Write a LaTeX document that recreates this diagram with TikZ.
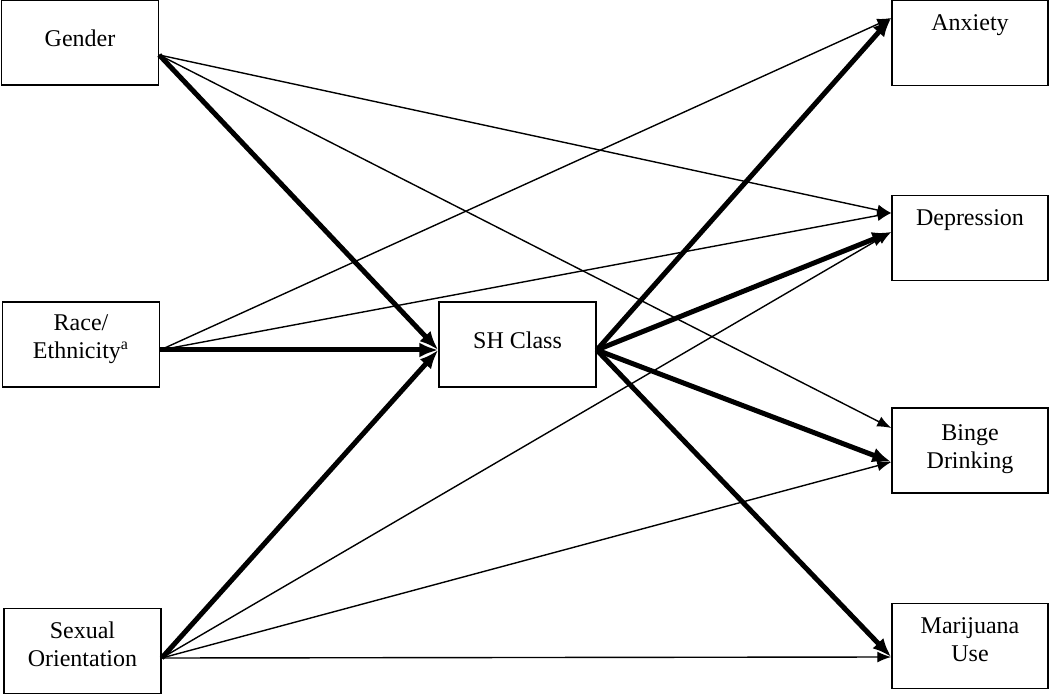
\documentclass[tikz,border=0pt]{standalone}
\usepackage{fontspec}
\setmainfont{Liberation Serif}
\usetikzlibrary{arrows.meta}
\begin{document}
\begin{tikzpicture}[x=0.5pt,y=-0.5pt,
  box/.style={draw, line width=0.75pt, minimum width=78.5pt, minimum height=42.5pt, inner sep=0pt},
  txt/.style={anchor=north, inner sep=0pt, align=center, font=\fontsize{12}{14}\selectfont},
  thinarr/.style={line width=0.7pt, -{Latex[length=7pt,width=5.5pt]}},
  thickarr/.style={line width=2.5pt, -{Latex[length=9.5pt,width=7.5pt]}}]
\useasboundingbox (0,0) rectangle (1050,695);
% boxes
\node[box] (gender) at (80,42.5) {};
\node[box] (race) at (81,344.5) {};
\node[box] (sexual) at (82.5,651) {};
\node[box] (sh) at (517.5,344.5) {};
\node[box, minimum width=78pt] (anx) at (970,43) {};
\node[box, minimum width=78pt] (dep) at (970,238) {};
\node[box, minimum width=78pt] (binge) at (970,450.5) {};
\node[box, minimum width=78pt] (mar) at (970,646) {};
% texts
\node[txt] (tgender) at ([yshift=-15pt]gender.north) {Gender};
\node[txt] (trace) at ([yshift=-6.5pt]race.north) {Race/\\Ethnicity\textsuperscript{a}};
\node[txt] (tsexual) at ([yshift=-7pt]sexual.north) {Sexual\\Orientation};
\node[txt] (tsh) at ([yshift=-15pt]sh.north) {SH Class};
\node[txt] (tanx) at ([yshift=-7pt]anx.north) {Anxiety};
\node[txt] (tdep) at ([yshift=-7pt]dep.north) {Depression};
\node[txt] (tbinge) at ([yshift=-8.5pt]binge.north) {Binge\\Drinking};
\node[txt] (tmar) at ([yshift=-7pt]mar.north) {Marijuana\\Use};
% thin paths
\draw[thinarr] ([yshift=-6.25pt]gender.east) -- ([yshift=12.5pt]dep.west);
\draw[thinarr] ([yshift=-6.25pt]gender.east) -- ([yshift=11.25pt]binge.west);
\draw[thinarr] ([yshift=-2.75pt]race.east) -- ([yshift=12.5pt]anx.west);
\draw[thinarr] ([yshift=-2.75pt]race.east) -- ([yshift=12.5pt]dep.west);
\draw[thinarr] ([yshift=-3.5pt]sexual.east) -- ([yshift=3pt]dep.west);
\draw[thinarr] ([yshift=-3.5pt]sexual.east) -- ([yshift=-5.75pt]binge.west);
\draw[thinarr] ([yshift=-3.5pt]sexual.east) -- ([yshift=-5.5pt]mar.west);
% thick paths
\draw[thickarr] ([yshift=-6.25pt]gender.east) -- ([yshift=-2.75pt]sh.west);
\draw[thickarr] ([yshift=-2.75pt]race.east) -- ([yshift=-2.75pt]sh.west);
\draw[thickarr] ([yshift=-3.5pt]sexual.east) -- ([yshift=-2.75pt]sh.west);
\draw[thickarr] ([yshift=-2.75pt]sh.east) -- ([yshift=12.5pt]anx.west);
\draw[thickarr] ([yshift=-2.75pt]sh.east) -- ([yshift=3pt]dep.west);
\draw[thickarr] ([yshift=-2.75pt]sh.east) -- ([yshift=-5.75pt]binge.west);
\draw[thickarr] ([yshift=-2.75pt]sh.east) -- ([yshift=-5.5pt]mar.west);
\end{tikzpicture}
\end{document}
